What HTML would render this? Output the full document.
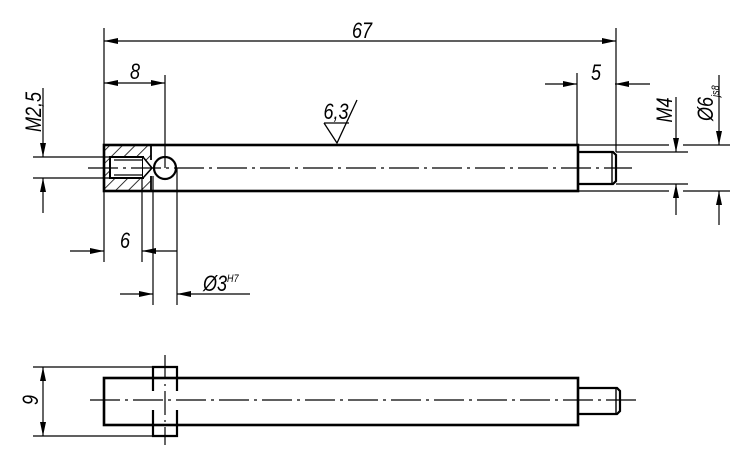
<!DOCTYPE html>
<html><head><meta charset="utf-8"><style>
html,body{margin:0;padding:0;background:#fff;}
svg{display:block;}
text{font-family:"Liberation Sans",sans-serif;font-style:italic;fill:#000;}
</style></head><body>
<svg width="750" height="467" viewBox="0 0 750 467" xmlns="http://www.w3.org/2000/svg">
<defs>
<marker id="a" viewBox="0 0 14 6" refX="14" refY="3" markerWidth="14" markerHeight="6" orient="auto-start-reverse" markerUnits="userSpaceOnUse"><path d="M0,0 L14,3 L0,6z" fill="#000"/></marker>
<pattern id="h" width="9" height="9" patternUnits="userSpaceOnUse" patternTransform="rotate(45)"><line x1="0" y1="0" x2="0" y2="9" stroke="#000" stroke-width="1.6"/></pattern>
</defs>
<g stroke="#000" fill="none" stroke-width="1.2">
<path d="M104,145 H151 V160 L147,168 L151,176 V191 H104Z" fill="url(#h)" stroke="none"/>
<rect x="110" y="157" width="33" height="21" fill="#fff" stroke="#000" stroke-width="2"/>
<line x1="114" y1="160" x2="143" y2="160"/><line x1="114" y1="175" x2="143" y2="175"/>
<path d="M143,157 L152,168 L143,178" fill="#fff" stroke-width="1.6"/>
<line x1="151" y1="145" x2="151" y2="160" stroke-width="1.8"/><line x1="151" y1="176" x2="151" y2="191" stroke-width="1.8"/>
<rect x="104" y="145" width="474" height="46" stroke-width="2.6"/>
<circle cx="165" cy="168" r="11" fill="#fff" stroke-width="2.2"/>
<path d="M578,152 H613 L616,155 V181 L613,184 H578" stroke-width="2.2"/>
<line x1="612" y1="152" x2="612" y2="184" stroke-width="1.4"/>
<line x1="88" y1="168" x2="632" y2="168" stroke-dasharray="30,5,3,5"/>
<line x1="165" y1="75" x2="165" y2="168"/>
<line x1="104" y1="28" x2="104" y2="145"/><line x1="616" y1="28" x2="616" y2="152"/>
<line x1="104" y1="41" x2="616" y2="41" marker-start="url(#a)" marker-end="url(#a)"/>
<line x1="104" y1="83" x2="165" y2="83" marker-start="url(#a)" marker-end="url(#a)"/>
<line x1="577" y1="73" x2="577" y2="145"/>
<line x1="545" y1="84" x2="577" y2="84" marker-end="url(#a)"/>
<line x1="650" y1="84" x2="615" y2="84" marker-end="url(#a)"/>
<line x1="33" y1="157" x2="110" y2="157"/><line x1="33" y1="178" x2="110" y2="178"/>
<line x1="43" y1="88" x2="43" y2="157" marker-end="url(#a)"/>
<line x1="43" y1="213" x2="43" y2="178" marker-end="url(#a)"/>
<line x1="104" y1="191" x2="104" y2="262"/>
<line x1="142" y1="178" x2="142" y2="262"/>
<line x1="153" y1="176" x2="153" y2="305"/>
<line x1="177" y1="168" x2="177" y2="305"/>
<line x1="70" y1="251" x2="104" y2="251" marker-end="url(#a)"/>
<line x1="177" y1="251" x2="142" y2="251" marker-end="url(#a)"/>
<line x1="120" y1="294" x2="153" y2="294" marker-end="url(#a)"/>
<line x1="250" y1="294" x2="177" y2="294" marker-end="url(#a)"/>
<line x1="616" y1="152" x2="688" y2="152"/><line x1="616" y1="184" x2="688" y2="184"/>
<line x1="676" y1="97" x2="676" y2="152" marker-end="url(#a)"/>
<line x1="676" y1="215" x2="676" y2="184" marker-end="url(#a)"/>
<line x1="578" y1="145" x2="669" y2="145"/><line x1="683" y1="145" x2="730" y2="145"/>
<line x1="578" y1="191" x2="669" y2="191"/><line x1="683" y1="191" x2="730" y2="191"/>
<line x1="719" y1="75" x2="719" y2="145" marker-end="url(#a)"/>
<line x1="719" y1="225" x2="719" y2="191" marker-end="url(#a)"/>
<path d="M324,123 H349 M324,123 L337,143 L357,100" stroke-width="1.3"/>

<rect x="104" y="378" width="474" height="47" stroke-width="2.6"/>
<path d="M578,388 H617 L620,391 V411 L617,414 H578" stroke-width="2.2"/>
<line x1="616" y1="388" x2="616" y2="414" stroke-width="1.4"/>
<path d="M153,391 V367 H177 V391" stroke-width="2.2"/>
<path d="M153,410 V436 H177 V410" stroke-width="2.2"/>
<line x1="90" y1="400" x2="636" y2="400" stroke-dasharray="30,5,3,5"/>
<line x1="165" y1="355" x2="165" y2="445" stroke-dasharray="24,5,2,5"/>
<line x1="33" y1="367" x2="153" y2="367"/><line x1="33" y1="436" x2="153" y2="436"/>
<line x1="43" y1="367" x2="43" y2="436" marker-start="url(#a)" marker-end="url(#a)"/>
</g>
<g font-size="22">
<text transform="translate(362,38) scale(0.82,1)" text-anchor="middle">67</text>
<text transform="translate(135,79) scale(0.82,1)" text-anchor="middle">8</text>
<text transform="translate(596,80) scale(0.82,1)" text-anchor="middle">5</text>
<text transform="translate(125,248) scale(0.82,1)" text-anchor="middle">6</text>
<text transform="translate(203,291) scale(0.82,1)">Ø3<tspan font-size="11" dy="-9">H7</tspan></text>
<text transform="translate(336,119) scale(0.82,1)" text-anchor="middle">6,3</text>
<text transform="translate(41,112) rotate(-90) scale(0.82,1)" text-anchor="middle">M2,5</text>
<text transform="translate(672,110) rotate(-90) scale(0.82,1)" text-anchor="middle">M4</text>
<text transform="translate(713,121) rotate(-90) scale(0.82,1)">Ø6<tspan font-size="11" dy="6">js8</tspan></text>
<text transform="translate(38,400) rotate(-90) scale(0.82,1)" text-anchor="middle">9</text>
</g>
</svg>
</body></html>
